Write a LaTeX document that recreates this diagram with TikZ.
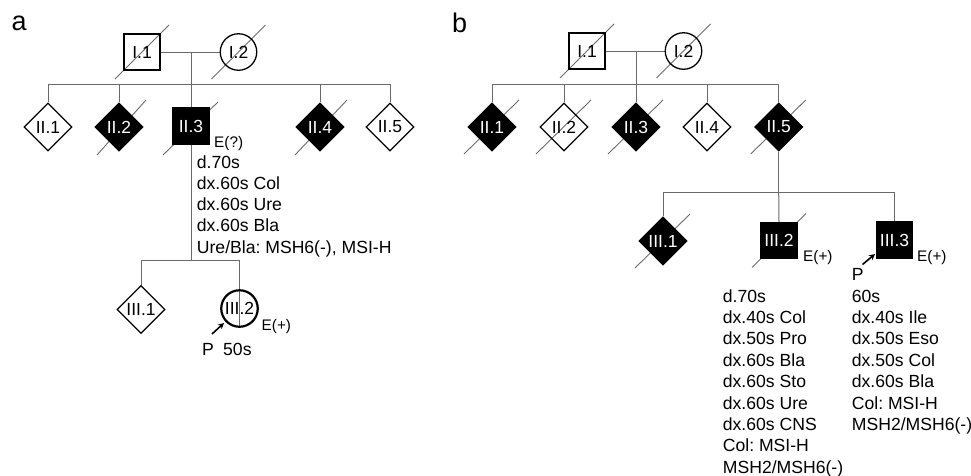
\documentclass[tikz,border=0pt]{standalone}
\usepackage{fontspec}
\setmainfont{Liberation Sans}
\usetikzlibrary{shapes.geometric,arrows.meta,backgrounds}
\definecolor{linegray}{HTML}{6A6A6A}
\newcommand\pedlab{\fontsize{17.5}{19}\selectfont}
\newcommand\pedtxt{\fontsize{17.6}{21.4}\selectfont}
\newcommand\pedsm{\fontsize{15.3}{17}\selectfont}
\newcommand\pedbig{\fontsize{27}{30}\selectfont}
\frenchspacing
\begin{document}
\frenchspacing
\begin{tikzpicture}[x=1pt,y=-1pt,
  conn/.style={draw=linegray, line width=1pt},
  slash/.style={draw=linegray, line width=0.9pt},
  sq/.style={rectangle, draw=black, line width=1.3pt, minimum size=36pt, inner sep=0pt, font=\pedlab},
  ci/.style={circle, draw=black, line width=1.3pt, minimum size=36.5pt, inner sep=0pt, font=\pedlab},
  di/.style={diamond, draw=black, line width=1.3pt, minimum width=48pt, minimum height=48pt, inner sep=0pt, font=\pedlab},
  aff/.style={fill=black, text=white},
  txt/.style={inner sep=0pt, anchor=base west, font=\pedtxt},
  sml/.style={inner sep=0pt, anchor=base west, font=\pedsm},
  parrow/.style={draw=black, line width=1.6pt, -{Stealth[length=6pt,width=6pt]}}]
\useasboundingbox (0,0) rectangle (971,475);

% ---------------- panel a ----------------
\node[inner sep=0pt, anchor=base west, font=\pedbig] (lbla) at (11.5,30) {a};
\node[sq] (I1a) at (142,52) {I.1};
\node[ci] (I2a) at (238.5,52) {I.2};
\coordinate (ma) at (191,52);
\coordinate (sa) at (191,84);
\node[di] (II1a) at (48,127) {II.1};
\node[di,aff] (II2a) at (119,127) {II.2};
\node[sq,aff] (II3a) at (191,126) {II.3};
\node[di,aff] (II4a) at (320,127) {II.4};
\node[di] (II5a) at (390,127) {II.5};
\coordinate (ca) at (191,260);
\node[di] (III1a) at (141,309.5) {III.1};
\node[ci, line width=2.2pt] (III2a) at (239.5,308.5) {III.2};

\node[sml] (Ea3) at (214,147) {E(?)};
\node[sml] (Ea32) at (261.5,330) {E(+)};
\foreach \t [count=\i] in {d.70s, dx.60s Col, dx.60s Ure, dx.60s Bla, {Ure/Bla: MSH6(-), MSI-H}}
  \node[txt] (ta\i) at (196.7,{168+21.3*(\i-1)}) {\t};
\node[txt] (Pa) at (202,355) {P};
\node[txt] (Aa) at (223,355) {50s};
\coordinate (pa1) at (212,334);
\coordinate (pa2) at (224,323);
\draw[parrow] (pa1) -- (pa2);

% ---------------- panel b ----------------
\node[inner sep=0pt, anchor=base west, font=\pedbig] (lblb) at (452,32) {b};
\node[sq] (I1b) at (587,51) {I.1};
\node[ci] (I2b) at (683.5,51) {I.2};
\coordinate (mb) at (636,51);
\coordinate (sb) at (636,84);
\node[di,aff] (II1b) at (492,127) {II.1};
\node[di] (II2b) at (564,127) {II.2};
\node[di,aff] (II3b) at (636,127) {II.3};
\node[di] (II4b) at (707,127) {II.4};
\node[di,aff] (II5b) at (778.7,127) {II.5};
\coordinate (cb) at (778.7,192);
\node[di,aff] (III1b) at (663,241) {III.1};
\node[sq,aff] (III2b) at (779,240.5) {III.2};
\node[sq,aff] (III3b) at (894.5,240) {III.3};

\node[sml] (Eb2) at (803,261) {E(+)};
\node[sml] (Eb3) at (917,261) {E(+)};
\foreach \t [count=\i] in {d.70s, dx.40s Col, dx.50s Pro, dx.60s Bla, dx.60s Sto, dx.60s Ure, dx.60s CNS, Col: MSI-H, MSH2/MSH6(-)}
  \node[txt] (tb\i) at (722.7,{302+21.4*(\i-1)}) {\t};
\foreach \t [count=\i] in {P, 60s, dx.40s Ile, dx.50s Eso, dx.50s Col, dx.60s Bla, Col: MSI-H, MSH2/MSH6(-)}
  \node[txt] (tc\i) at (851.7,{280.6+21.4*(\i-1)}) {\t};
\coordinate (pb1) at (862.5,264.5);
\coordinate (pb2) at (875,254);
\draw[parrow] (pb1) -- (pb2);

% ---------------- connectors and slashes (behind) ----------------
\begin{scope}[on background layer]
  % panel a
  \draw[conn] (I1a.east) -- (I2a.west);
  \draw[conn] (ma) -- (sa);
  \draw[conn] (II1a.north) -- (II1a.north |- sa) -- (II5a.north |- sa) -- (II5a.north);
  \draw[conn] (II2a.north) -- (II2a.north |- sa);
  \draw[conn] (II4a.north) -- (II4a.north |- sa);
  \draw[conn] (sa) -- (ca);
  \draw[conn] (III1a.north) -- (III1a.north |- ca) -- (III2a.north |- ca) -- (III2a.south);
  \draw[slash] (I1a) ++(-27,27) -- ++(54,-54);
  \draw[slash] (I2a) ++(-27,27) -- ++(54,-54);
  \draw[slash] (II2a) ++(-22,28) -- ++(49,-55);
  \draw[slash] (II3a) ++(-28,29) -- ++(55,-53);
  \draw[slash] (II4a) ++(-25,28) -- ++(52,-55);
  % panel b
  \draw[conn] (I1b.east) -- (I2b.west);
  \draw[conn] (mb) -- (sb);
  \draw[conn] (II1b.north) -- (II1b.north |- sb) -- (II5b.north |- sb) -- (II5b.north);
  \draw[conn] (II2b.north) -- (II2b.north |- sb);
  \draw[conn] (II4b.north) -- (II4b.north |- sb);
  \draw[conn] (sb) -- (II3b.north);
  \draw[conn] (II5b.south) -- (cb);
  \draw[conn] (III1b.north) -- (III1b.north |- cb) -- (III3b.north |- cb) -- (III3b.north);
  \draw[conn] (cb) -- (III2b.north);
  \draw[slash] (I1b) ++(-27,27) -- ++(54,-54);
  \draw[slash] (I2b) ++(-27,27) -- ++(54,-54);
  \draw[slash] (II1b) ++(-28,27) -- ++(55,-54);
  \draw[slash] (II2b) ++(-28,27) -- ++(55,-54);
  \draw[slash] (II3b) ++(-28,27) -- ++(55,-54);
  \draw[slash] (II5b) ++(-28,27) -- ++(55,-54);
  \draw[slash] (III1b) ++(-28,27) -- ++(55,-54);
  \draw[slash] (III2b) ++(-27,27) -- ++(54,-54);
\end{scope}
\end{tikzpicture}
\end{document}
